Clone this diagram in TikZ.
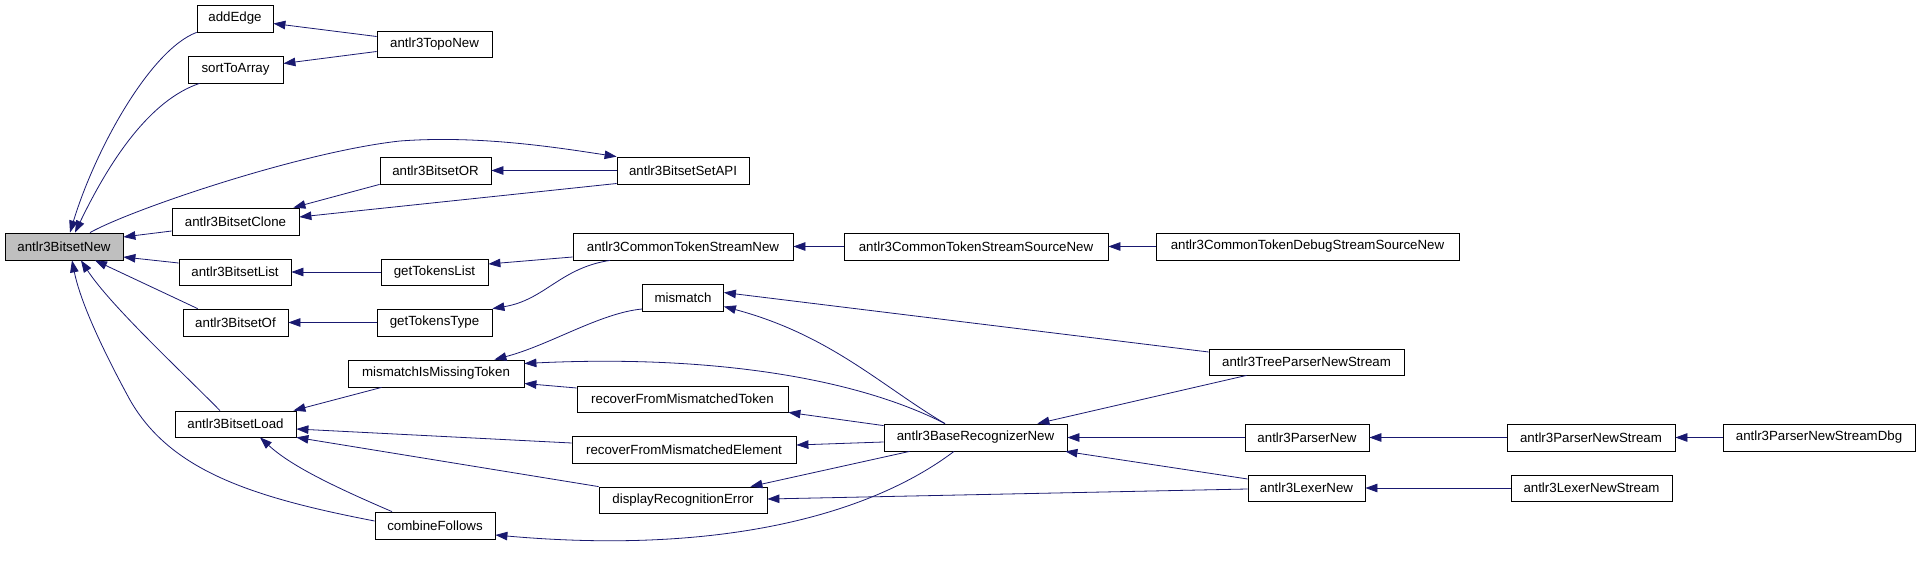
\documentclass[tikz,border=0pt]{standalone}
\usepackage{fontspec}
\setmainfont{Liberation Sans}
\usetikzlibrary{arrows.meta}
\definecolor{edgeblue}{HTML}{191970}
\definecolor{hilite}{HTML}{BFBFBF}
\tikzset{
  fn/.style={draw=black, line width=0.8pt, fill=white, inner sep=0pt, minimum height=27pt,
    font=\fontsize{13.3}{15}\selectfont, text=black},
  fnh/.style={fn, fill=hilite},
  e/.style={draw=edgeblue, line width=0.8pt, -{Triangle[length=12pt,width=8.5pt]}, fill=none},
}
\begin{document}
\begin{tikzpicture}[x=1pt,y=-1pt]
\useasboundingbox[fill=white] (0,0) rectangle (1920,569);
% nodes
\node[fnh, minimum width=118pt] (bn) at (64,246.5) {antlr3BitsetNew};
\node[fn, minimum width=76pt] (addedge) at (235,18.5) {addEdge};
\node[fn, minimum width=115pt, minimum height=26pt] (topo) at (434.5,44.5) {antlr3TopoNew};
\node[fn, minimum width=95pt] (sort) at (235.5,69.5) {sortToArray};
\node[fn, minimum width=111pt] (bor) at (435.5,170.5) {antlr3BitsetOR};
\node[fn, minimum width=132pt] (setapi) at (683,170.5) {antlr3BitsetSetAPI};
\node[fn, minimum width=127pt] (clone) at (235.5,221.5) {antlr3BitsetClone};
\node[fn, minimum width=112pt, minimum height=26pt] (blist) at (235,272) {antlr3BitsetList};
\node[fn, minimum width=107pt, minimum height=26pt] (gtl) at (434.5,272) {getTokensList};
\node[fn, minimum width=220pt] (ctsn) at (683,246.5) {antlr3CommonTokenStreamNew};
\node[fn, minimum width=264pt] (ctssn) at (976,246.5) {antlr3CommonTokenStreamSourceNew};
\node[fn, minimum width=303pt] (dbg) at (1307.5,246.5) {antlr3CommonTokenDebugStreamSourceNew};
\node[fn, minimum width=105pt] (bof) at (235.5,322.5) {antlr3BitsetOf};
\node[fn, minimum width=115pt] (gtt) at (434.5,322.5) {getTokensType};
\node[fn, minimum width=81pt] (mism) at (683,297.5) {mismatch};
\node[fn, minimum width=176pt] (mimt) at (436,373.5) {mismatchIsMissingToken};
\node[fn, minimum width=195pt, minimum height=26pt] (tpns) at (1306.5,362) {antlr3TreeParserNewStream};
\node[fn, minimum width=211pt, minimum height=26pt] (rfmt) at (682.5,399) {recoverFromMismatchedToken};
\node[fn, minimum width=121pt, minimum height=26pt] (bload) at (235.5,424) {antlr3BitsetLoad};
\node[fn, minimum width=183pt] (brn) at (975.5,437.5) {antlr3BaseRecognizerNew};
\node[fn, minimum width=124pt] (pnew) at (1307,437.5) {antlr3ParserNew};
\node[fn, minimum width=168pt] (pns) at (1591,437.5) {antlr3ParserNewStream};
\node[fn, minimum width=192pt] (pnsd) at (1819,437.5) {antlr3ParserNewStreamDbg};
\node[fn, minimum width=224pt] (rfme) at (684,449.5) {recoverFromMismatchedElement};
\node[fn, minimum width=168pt, minimum height=26pt] (dre) at (683,500) {displayRecognitionError};
\node[fn, minimum width=117pt, minimum height=26pt] (lnew) at (1306.5,488) {antlr3LexerNew};
\node[fn, minimum width=161pt, minimum height=26pt] (lns) at (1591.5,488) {antlr3LexerNewStream};
\node[fn, minimum width=120pt] (cf) at (435,525.5) {combineFollows};
% edges
\draw[e] (addedge.south west) .. controls (150,50) and (95,150) .. ([xshift=6pt]bn.north);
\draw[e] ([xshift=12pt]sort.south west) .. controls (150,100) and (110,160) .. ([xshift=11pt]bn.north);
\draw[e] ([yshift=8pt]topo.west) -- ([yshift=-5pt]addedge.east);
\draw[e] ([yshift=-7pt]topo.west) -- ([yshift=6pt]sort.east);
\draw[e] ([xshift=26pt]bn.north) .. controls (130,210) and (300,152) .. (400,141) .. controls (480,135) and (560,148) .. (setapi.north west);
\draw[e] (setapi.west) -- (bor.east);
\draw[e] ([yshift=-13pt]setapi.west) -- ([yshift=4.5pt]clone.east);
\draw[e] (bor.south west) -- ([xshift=-6pt]clone.north east);
\draw[e] ([yshift=-9.5pt]clone.west) -- ([yshift=9.5pt]bn.east);
\draw[e] ([yshift=9pt]blist.west) -- ([yshift=-10.5pt]bn.east);
\draw[e] (gtl.west) -- (blist.east);
\draw[e] ([yshift=-10.5pt]ctsn.west) -- ([yshift=8pt]gtl.east);
\draw[e] ([xshift=-73pt]ctsn.south) .. controls (560,268) and (545,300) .. (gtt.north east);
\draw[e] (ctssn.west) -- (ctsn.east);
\draw[e] (dbg.west) -- (ctssn.east);
\draw[e] (gtt.west) -- (bof.east);
\draw[e] ([xshift=15pt]bof.north west) -- ([xshift=31pt]bn.south);
\draw[e] ([xshift=-15.5pt]bload.north) .. controls (180,370) and (110,305) .. ([xshift=17pt]bn.south);
\draw[e] ([yshift=4.5pt]cf.west) .. controls (250,497) and (170,470) .. (130,400) .. controls (100,345) and (80,300) .. ([xshift=8pt]bn.south);
\draw[e] ([xshift=34pt]mimt.south west) -- ([xshift=-3pt]bload.north east);
\draw[e] ([yshift=6.5pt]rfme.west) -- ([yshift=-5pt]bload.east);
\draw[e] (dre.north west) -- (bload.south east);
\draw[e] ([xshift=-43pt]cf.north) .. controls (330,485) and (290,465) .. ([xshift=24.5pt]bload.south);
\draw[e] ([yshift=-11.5pt]mism.west) .. controls (600,313) and (550,345) .. ([xshift=-30pt]mimt.north east);
\draw[e] ([yshift=11pt]rfmt.west) -- ([yshift=-10pt]mimt.east);
\draw[e] ([xshift=-30.5pt]brn.north) .. controls (850,375) and (700,355) .. ([yshift=10pt]mimt.east);
\draw[e] ([xshift=-30.5pt]brn.north) .. controls (880,385) and (830,335) .. ([yshift=-9pt]mism.east);
\draw[e] ([yshift=10pt]tpns.west) -- ([yshift=5pt]mism.east);
\draw[e] ([yshift=-2pt]brn.north west) -- (rfmt.south east);
\draw[e] ([yshift=-4.5pt]brn.west) -- ([yshift=4.5pt]rfme.east);
\draw[e] ([xshift=26pt]brn.south west) -- ([xshift=-17pt]dre.north east);
\draw[e] ([xshift=-21.5pt]brn.south) .. controls (870,515) and (720,555) .. ([yshift=-9.5pt]cf.east);
\draw[e] ([xshift=38pt]tpns.south west) -- ([xshift=-30pt]brn.north east);
\draw[e] (pnew.west) -- (brn.east);
\draw[e] ([yshift=9pt]lnew.west) -- ([xshift=-2pt]brn.south east);
\draw[e] ([yshift=-1pt]lnew.west) -- ([yshift=1pt]dre.east);
\draw[e] (pns.west) -- (pnew.east);
\draw[e] (pnsd.west) -- (pns.east);
\draw[e] (lns.west) -- (lnew.east);
\end{tikzpicture}
\end{document}
